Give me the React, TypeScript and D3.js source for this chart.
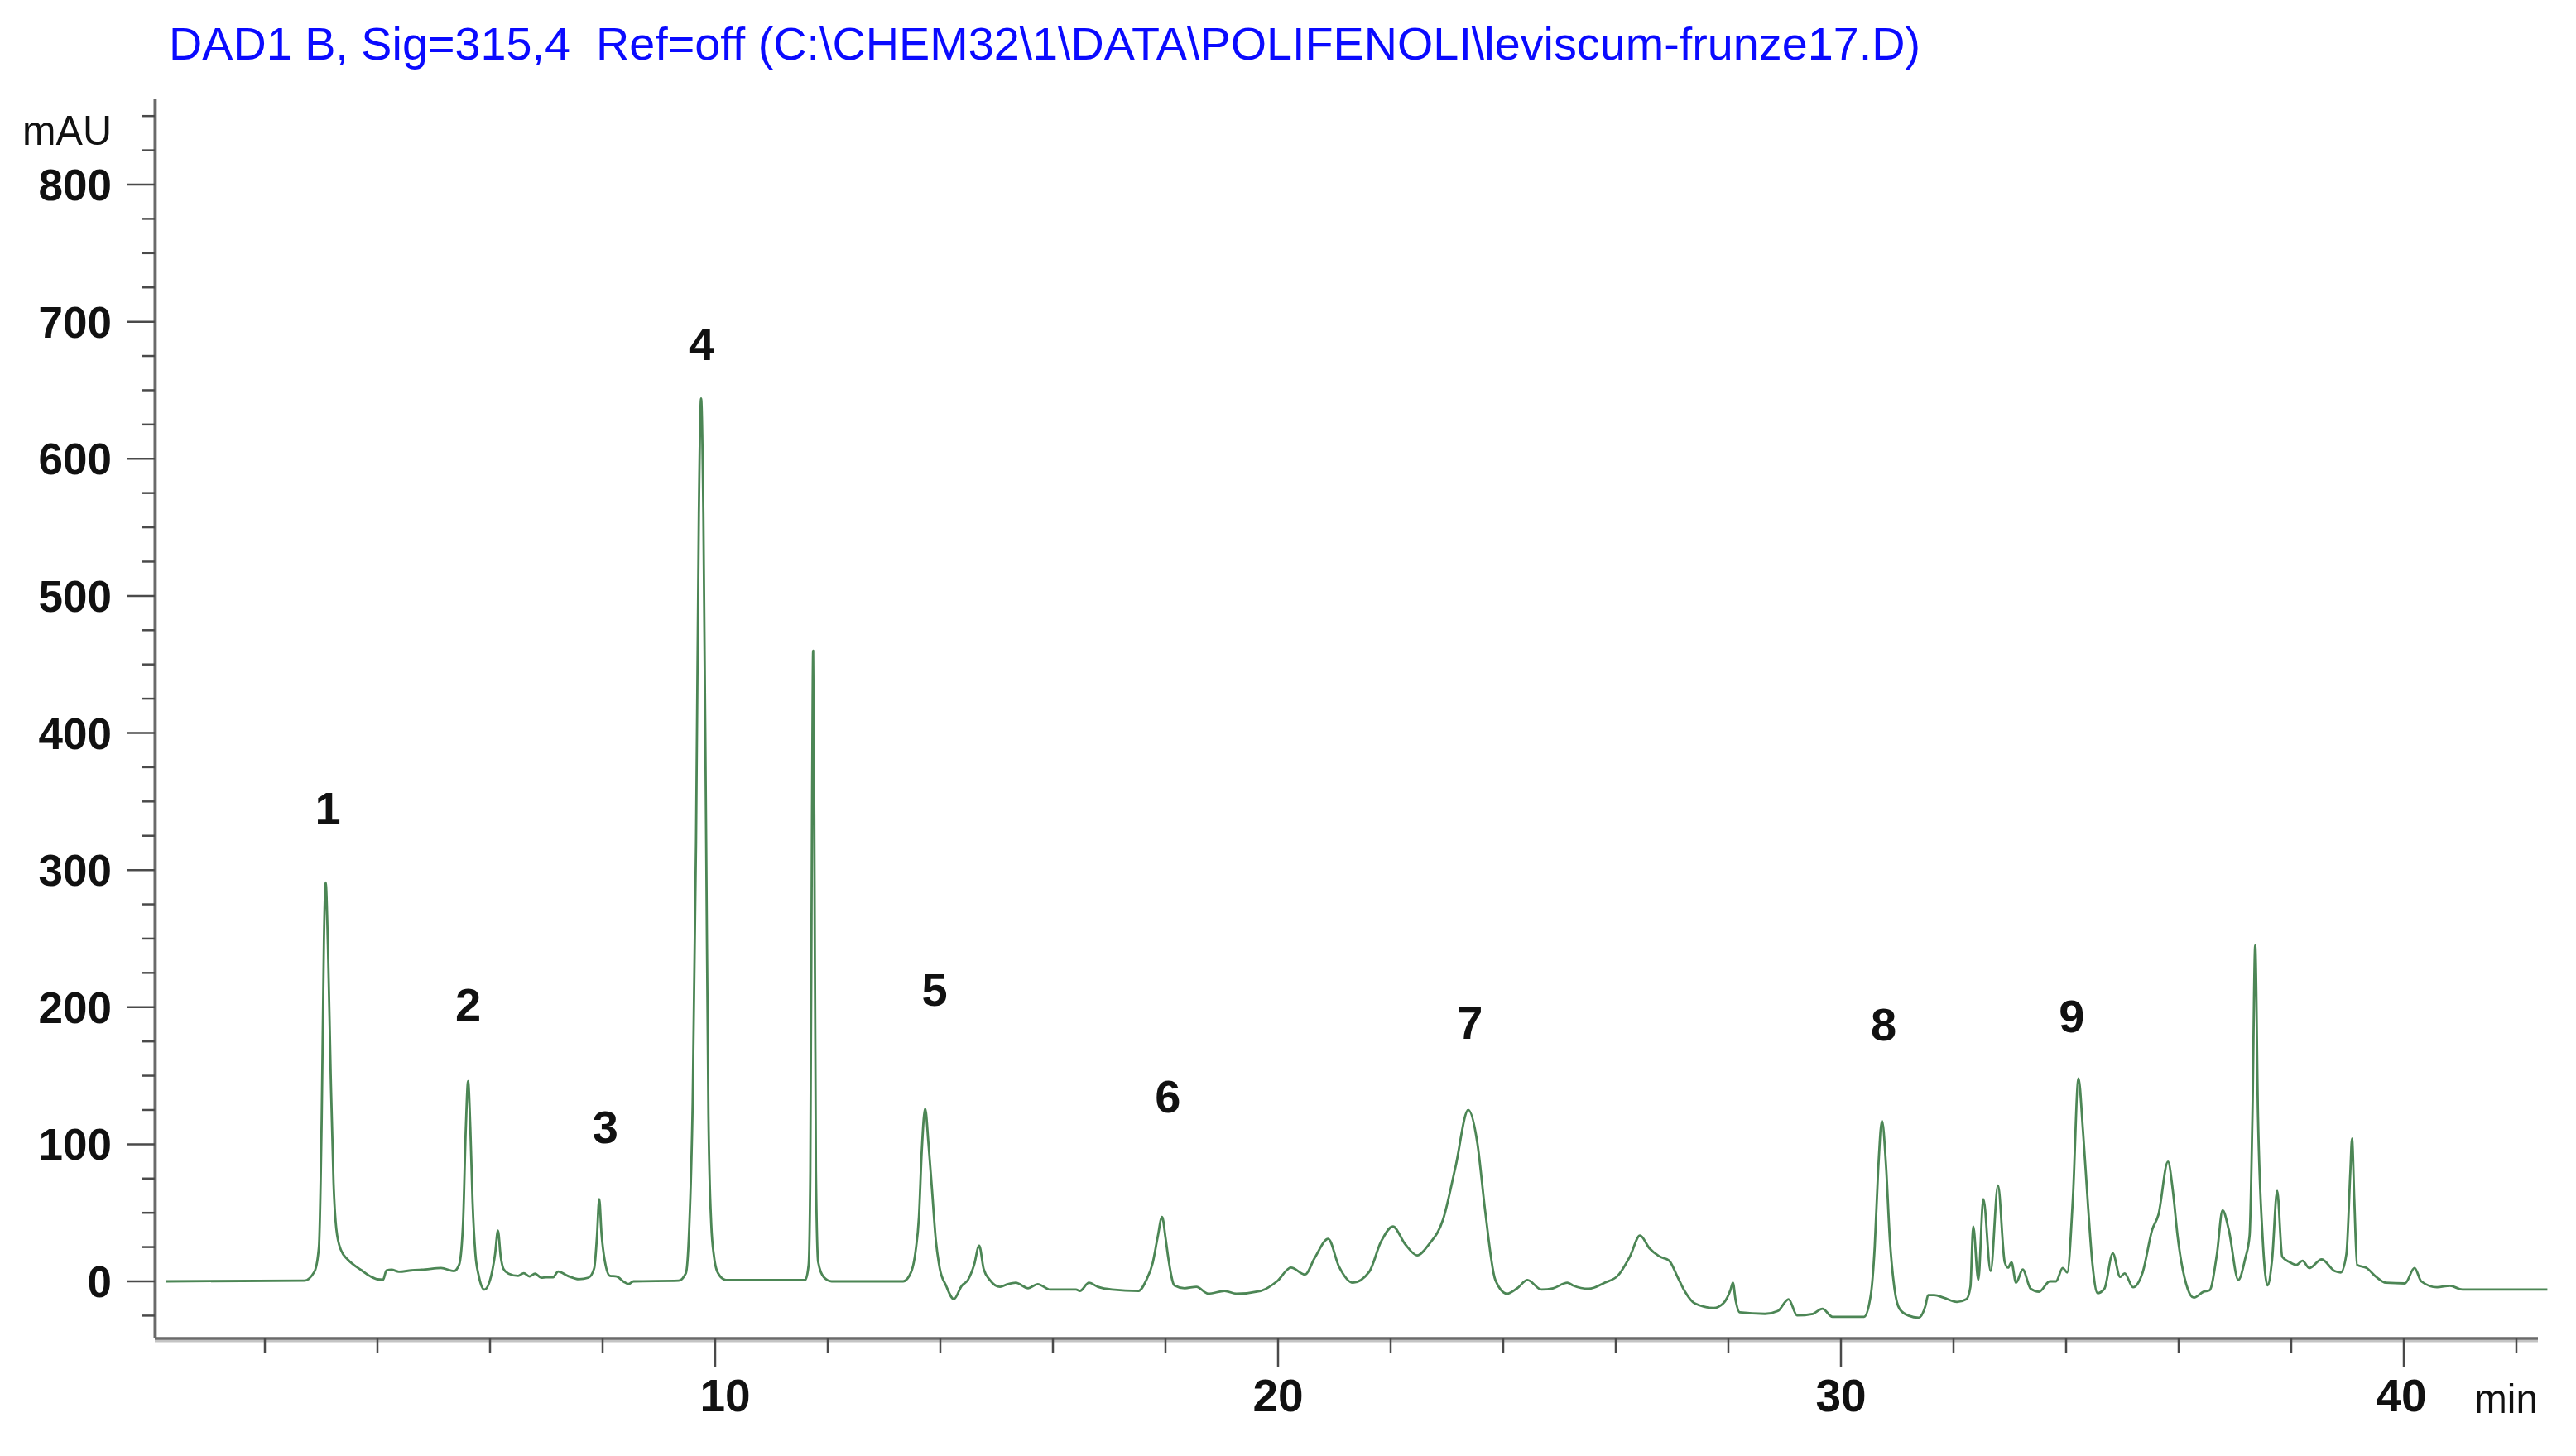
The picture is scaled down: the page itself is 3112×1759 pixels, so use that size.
import React from 'react';
import * as d3 from 'd3';

const W = 3112;
const H = 1759;

const titleText = 'DAD1 B, Sig=315,4  Ref=off (C:\\CHEM32\\1\\DATA\\POLIFENOLI\\leviscum-frunze17.D)';
const yUnit = 'mAU';
const xUnit = 'min';

const yMajorTicks = [0, 100, 200, 300, 400, 500, 600, 700, 800];
const xMajorTicks = [10, 20, 30, 40];
const xMajorLabelShift = [12, 0, 0, -3];

const peakLabels = ['1', '2', '3', '4', '5', '6', '7', '8', '9'];
const peakLabelTime = [3.12, 5.61, 8.05, 9.76, 13.9, 18.04, 23.41, 30.76, 34.1];
const peakLabelMAU = [333, 190, 101, 672, 201, 123, 177, 176, 182];

// chromatogram trace: [retention time (min), absorbance (mAU)]
const trace: [number, number][] = [
  [0.24, 0], [2.7, 0.5], [2.88, 7], [2.96, 25], [3.01, 120], [3.05, 250], [3.08, 291], [3.12, 245],
  [3.17, 150], [3.22, 72], [3.27, 38], [3.35, 23], [3.47, 16], [3.58, 12], [3.72, 8], [3.86, 4],
  [4.0, 1.5], [4.1, 1.3], [4.16, 8], [4.25, 8.5], [4.38, 7], [4.6, 8], [4.85, 8.7], [5.13, 9.7],
  [5.36, 7.5], [5.45, 12], [5.52, 42], [5.57, 112], [5.61, 146], [5.65, 112], [5.69, 58], [5.74, 20],
  [5.8, 4], [5.9, -6], [6.02, 4], [6.09, 20], [6.14, 37], [6.19, 18], [6.24, 9], [6.33, 5.6],
  [6.5, 4], [6.6, 6], [6.7, 3.6], [6.8, 5.6], [6.91, 2.7], [7.0, 3], [7.12, 3], [7.21, 7.2],
  [7.38, 4], [7.58, 1.6], [7.75, 2.7], [7.85, 9.4], [7.9, 33], [7.94, 60], [7.98, 35], [8.04, 14.7],
  [8.13, 4], [8.25, 3.6], [8.38, -0.4], [8.46, -1.9], [8.55, 0], [9.35, 0.5], [9.48, 6], [9.54, 40],
  [9.6, 130], [9.66, 320], [9.71, 560], [9.75, 644], [9.79, 560], [9.84, 320], [9.88, 122], [9.93, 42],
  [9.98, 18], [10.05, 6], [10.19, 1], [11.6, 1], [11.66, 12], [11.69, 80], [11.72, 340], [11.74, 460],
  [11.76, 340], [11.79, 80], [11.83, 14], [11.93, 3], [12.07, 0], [13.34, 0], [13.48, 6.7], [13.56, 22],
  [13.62, 47], [13.67, 95], [13.73, 126], [13.79, 100], [13.85, 68], [13.92, 30], [13.99, 9.4], [14.1, -3],
  [14.24, -13], [14.38, -3.2], [14.49, 1], [14.6, 12], [14.69, 26], [14.77, 9], [14.88, 1], [15.06, -4],
  [15.2, -2], [15.34, -1], [15.56, -5], [15.73, -2], [15.95, -6], [16.41, -6], [16.48, -7], [16.64, -1],
  [16.8, -4], [17.05, -6], [17.52, -7], [17.66, 1], [17.77, 13], [17.86, 32], [17.94, 47], [18.0, 32],
  [18.05, 17], [18.16, -3], [18.34, -5], [18.55, -4], [18.76, -9], [19.05, -7], [19.26, -9], [19.69, -7],
  [19.98, 0], [20.23, 10], [20.48, 5], [20.65, 17], [20.89, 31], [21.08, 11], [21.33, -1], [21.62, 7],
  [21.83, 29], [22.04, 40], [22.26, 27], [22.47, 19], [22.68, 27], [22.93, 45], [23.15, 83], [23.38, 125],
  [23.54, 101], [23.68, 51], [23.86, 1], [24.07, -9], [24.25, -5], [24.43, 1], [24.68, -6], [24.89, -5],
  [25.14, -1], [25.24, -3], [25.52, -5.4], [25.8, -1], [26.04, 4.3], [26.25, 18], [26.43, 33.4], [26.6, 24],
  [26.77, 18.3], [26.95, 15], [27.1, 3], [27.23, -7.6], [27.4, -16], [27.74, -19.4], [27.91, -16], [28.04, -6],
  [28.08, -1], [28.13, -14], [28.2, -22.6], [28.65, -23.7], [28.88, -21.6], [29.07, -13], [29.22, -24.8], [29.5, -23.7],
  [29.67, -20], [29.85, -25.9], [30.41, -25.9], [30.53, -10], [30.6, 25], [30.66, 80], [30.73, 117], [30.8, 85],
  [30.87, 30], [30.95, -5], [31.04, -20], [31.2, -25], [31.38, -26.5], [31.5, -18], [31.55, -10], [31.66, -10],
  [31.83, -12], [32.06, -15], [32.23, -13], [32.3, -4], [32.35, 40], [32.44, 1], [32.53, 60], [32.66, 7.5],
  [32.79, 70], [32.91, 14], [32.97, 10], [33.03, 14], [33.11, -1], [33.23, 8.6], [33.37, -5.4], [33.52, -7.6],
  [33.71, 0], [33.82, 0], [33.94, 9.7], [34.02, 6.5], [34.12, 60], [34.22, 148], [34.3, 110], [34.39, 55],
  [34.47, 12], [34.56, -8.6], [34.68, -5.4], [34.83, 20.5], [34.96, 3.2], [35.04, 5.8], [35.19, -4.3], [35.36, 6.5],
  [35.53, 37.7], [35.64, 48.5], [35.81, 87.3], [35.9, 65], [35.98, 33.4], [36.16, -5.4], [36.27, -11.9], [36.44, -7.6],
  [36.55, -6.5], [36.68, 20], [36.78, 51.8], [36.89, 37.7], [37.06, 1.1], [37.18, 16.2], [37.26, 33.4], [37.31, 120],
  [37.36, 245], [37.41, 120], [37.49, 33], [37.58, -3], [37.66, 16], [37.75, 66], [37.84, 18], [37.97, 14],
  [38.09, 12], [38.2, 15], [38.32, 9.7], [38.54, 16], [38.77, 7.5], [38.88, 6.5], [38.98, 20], [39.05, 80],
  [39.08, 104], [39.12, 60], [39.17, 12], [39.34, 9.7], [39.51, 3.2], [39.68, -1], [40.02, -1.5], [40.19, 9.7],
  [40.31, 0], [40.59, -4.3], [40.82, -3.2], [41.04, -6], [42.55, -6],
];

const FONT = 'Liberation Sans, Arial, Helvetica, sans-serif';

export default function App() {
  const x = d3.scaleLinear().domain([0, 42.4]).range([184, 184 + 42.4 * 68]);
  const y = d3.scaleLinear().domain([0, 800]).range([1548, 223]);

  const axisX0 = 187;
  const axisX1 = 3066;
  const axisYBottom = 1617;
  const axisYTop = 120;

  const yMinorTicks = d3.range(-25, 851, 25).filter((v) => v % 100 !== 0);
  const xMinorTicks = d3.range(2, 43, 2).filter((v) => v % 10 !== 0);

  const line = d3
    .line<[number, number]>()
    .x((d) => x(d[0]))
    .y((d) => y(d[1]))
    .curve(d3.curveMonotoneX);

  const tickColor = '#4a4a4a';
  const axisColor = '#6a6a6a';

  return (
    <svg
      width={W}
      height={H}
      viewBox={`0 0 ${W} ${H}`}
      style={{ position: 'absolute', left: 0, top: 0, background: '#fff' }}
      fontFamily={FONT}
    >
      <rect x={0} y={0} width={W} height={H} fill="#fff" />
      {/* title */}
      <text
        x={204}
        y={72}
        fontSize={56}
        fill="#0a0aff"
        textLength={2116}
        lengthAdjust="spacingAndGlyphs"
        style={{ whiteSpace: 'pre' }}
      >
        {titleText}
      </text>

      {/* y axis */}
      <line x1={axisX0 + 2} y1={axisYTop} x2={axisX0 + 2} y2={axisYBottom} stroke="#c9c9c9" strokeWidth={2} />
      <line x1={axisX0} y1={axisYTop} x2={axisX0} y2={axisYBottom} stroke={axisColor} strokeWidth={3} />
      {yMinorTicks.map((v) => (
        <line key={'ym' + v} x1={171} x2={axisX0} y1={y(v)} y2={y(v)} stroke={tickColor} strokeWidth={2.5} />
      ))}
      {yMajorTicks.map((v) => (
        <g key={'yM' + v}>
          <line x1={154} x2={axisX0} y1={y(v)} y2={y(v)} stroke={tickColor} strokeWidth={2.5} />
          <text x={135} y={y(v) + 19} textAnchor="end" fontSize={53} fontWeight="bold" fill="#111">
            {v}
          </text>
        </g>
      ))}
      <text x={135} y={175} textAnchor="end" fontSize={50} fill="#111" textLength={108} lengthAdjust="spacingAndGlyphs">
        {yUnit}
      </text>

      {/* x axis */}
      <line x1={axisX0} y1={axisYBottom + 3} x2={axisX1} y2={axisYBottom + 3} stroke="#c4c4c4" strokeWidth={3} />
      <line x1={axisX0} y1={axisYBottom} x2={axisX1} y2={axisYBottom} stroke={axisColor} strokeWidth={3.5} />
      {xMinorTicks.map((v) => (
        <line key={'xm' + v} x1={x(v)} x2={x(v)} y1={axisYBottom} y2={axisYBottom + 17} stroke={tickColor} strokeWidth={2.5} />
      ))}
      {xMajorTicks.map((v, i) => (
        <g key={'xM' + v}>
          <line x1={x(v)} x2={x(v)} y1={axisYBottom} y2={axisYBottom + 34} stroke={tickColor} strokeWidth={2.5} />
          <text x={x(v) + xMajorLabelShift[i]} y={1705} textAnchor="middle" fontSize={55} fontWeight="bold" fill="#111">
            {v}
          </text>
        </g>
      ))}
      <text x={axisX1} y={1707} textAnchor="end" fontSize={50} fill="#111" textLength={77} lengthAdjust="spacingAndGlyphs">
        {xUnit}
      </text>

      {/* trace */}
      <path d={line(trace) || ''} fill="none" stroke="#4c8655" strokeWidth={2.8} strokeLinejoin="round" />

      {/* peak labels */}
      {peakLabels.map((lab, i) => (
        <text
          key={'p' + lab}
          x={x(peakLabelTime[i])}
          y={y(peakLabelMAU[i])}
          textAnchor="middle"
          fontSize={56}
          fontWeight="bold"
          fill="#111"
        >
          {lab}
        </text>
      ))}
    </svg>
  );
}
